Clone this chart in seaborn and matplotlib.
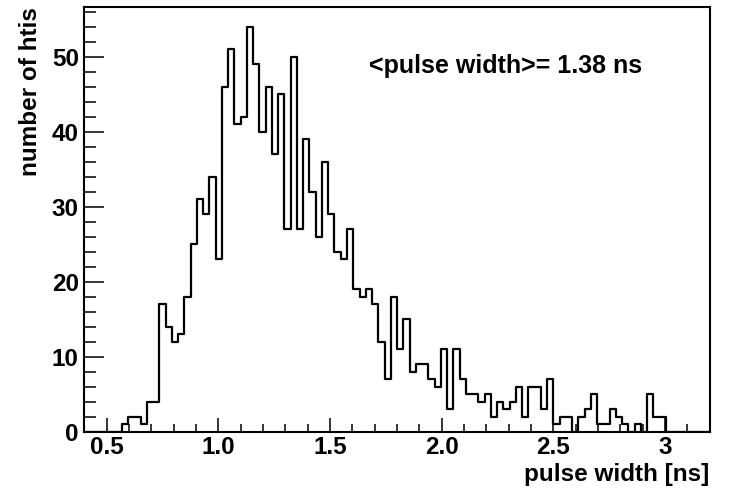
import numpy as np
import pandas as pd
import matplotlib
matplotlib.use("Agg")
import matplotlib.pyplot as plt
import seaborn as sns
from matplotlib.ticker import MultipleLocator, FixedLocator, FixedFormatter

# ---- data ----
hist_range = (0.4, 3.2)
n_bins = 100
first_filled_bin = 6
bin_counts = [1, 2, 2, 1, 4, 4, 17, 14, 12, 13, 18, 25, 31, 29, 34, 23, 46, 51,
              41, 42, 54, 49, 40, 46, 37, 45, 27, 50, 27, 39, 32, 26, 36, 29,
              24, 23, 27, 19, 18, 19, 17, 12, 7, 18, 11, 15, 8, 9, 9, 7, 6, 11,
              3, 11, 7, 5, 5, 4, 5, 2, 4, 3, 4, 6, 2, 6, 6, 3, 7, 1, 2, 2, 0,
              2, 3, 5, 1, 1, 3, 2, 1, 0, 1, 0, 5, 2, 2]
x_tick_values = [0.5, 1.0, 1.5, 2.0, 2.5, 3.0]
x_tick_labels = ["0.5", "1.0", "1.5", "2.0", "2.5", "3"]
y_tick_values = [0, 10, 20, 30, 40, 50]
annotation = "<pulse width>= 1.38 ns"
x_title = "pulse width [ns]"
y_title = "number of htis"

edges = np.linspace(hist_range[0], hist_range[1], n_bins + 1)
centers = 0.5 * (edges[:-1] + edges[1:])
counts = np.zeros(n_bins)
counts[first_filled_bin:first_filled_bin + len(bin_counts)] = bin_counts
df = pd.DataFrame({"width": centers, "n": counts})

sns.set_style("ticks")
plt.rcParams["font.family"] = ["Liberation Sans", "DejaVu Sans"]
plt.rcParams["font.weight"] = "bold"
plt.rcParams["text.color"] = "black"
plt.rcParams["axes.labelcolor"] = "black"
plt.rcParams["xtick.color"] = "black"
plt.rcParams["ytick.color"] = "black"
plt.rcParams["xtick.labelcolor"] = "black"
plt.rcParams["ytick.labelcolor"] = "black"

fig = plt.figure(figsize=(7.33, 4.88), dpi=100)
ax = fig.add_axes([0.1151, 0.1154, 0.8531, 0.8709])

sns.histplot(data=df, x="width", weights="n", bins=n_bins, binrange=hist_range,
             element="step", fill=False, color="black", linewidth=1.6, ax=ax)

ax.set_xlim(*hist_range)
ax.set_ylim(0, max(bin_counts) * 1.05)

for s in ax.spines.values():
    s.set_visible(True)
    s.set_linewidth(1.5)
    s.set_color("black")

ax.xaxis.set_major_locator(FixedLocator(x_tick_values))
ax.xaxis.set_major_formatter(FixedFormatter(x_tick_labels))
ax.xaxis.set_minor_locator(MultipleLocator(0.1))
ax.yaxis.set_major_locator(FixedLocator(y_tick_values))
ax.yaxis.set_minor_locator(MultipleLocator(2))

ax.tick_params(axis="both", which="both", direction="in", top=False,
               right=False, width=1.1, color="black", labelcolor="black",
               labelsize=17.5)
ax.tick_params(axis="x", which="major", length=10, pad=3)
ax.tick_params(axis="x", which="minor", length=5.8)
ax.tick_params(axis="y", which="major", length=14.4, pad=4)
ax.tick_params(axis="y", which="minor", length=8.6)
for lab in ax.get_xticklabels() + ax.get_yticklabels():
    lab.set_fontweight("bold")

ax.set_xlabel(x_title, loc="right", fontsize=17.5, fontweight="bold",
              labelpad=3, color="black")
ax.set_ylabel(y_title, loc="top", fontsize=17.5, fontweight="bold",
              labelpad=7, color="black")

ax.text(0.674, 0.86, annotation, transform=ax.transAxes, ha="center",
        va="center", fontsize=18, fontweight="bold", color="black")

fig.savefig("out.png", dpi=100, facecolor="white")
